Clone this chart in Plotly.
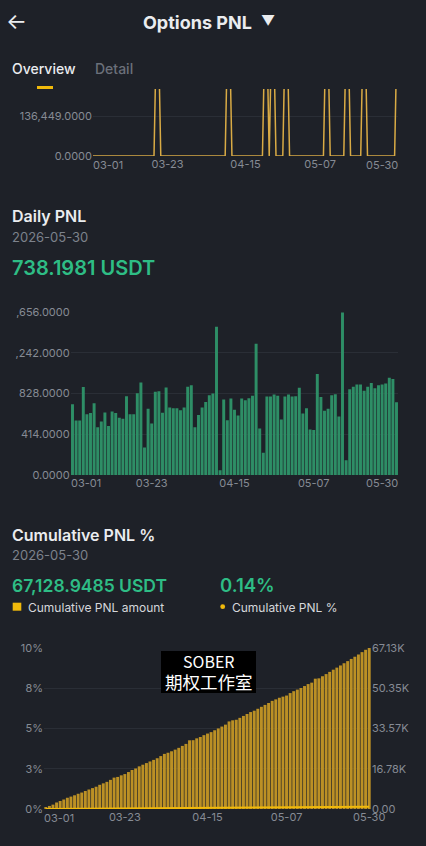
import numpy as np
import pandas as pd
import plotly.graph_objects as go

W, H = 426, 846

# ---------------- data ----------------
dates = pd.date_range("2026-03-01", "2026-05-30", freq="D")

daily_pnl = [718, 554, 554, 893, 616, 629, 728, 486, 544, 636,
             499, 646, 629, 581, 571, 800, 616, 616, 831, 940,
             280, 674, 523, 845, 852, 633, 889, 687, 677, 677,
             657, 687, 896, 913, 486, 609, 687, 742, 810, 828,
             1505, 48, 766, 557, 776, 663, 605, 776, 759, 780,
             804, 1334, 472, 226, 797, 797, 817, 804, 564, 797,
             817, 797, 800, 886, 626, 677, 462, 458, 1026, 793,
             653, 674, 811, 821, 595, 1652, 150, 872, 896, 920,
             920, 855, 896, 934, 882, 913, 920, 930, 988, 975, 738.1981]

overview_spike_dates = ["2026-03-20", "2026-04-10", "2026-04-21", "2026-04-23",
                        "2026-04-27", "2026-05-09", "2026-05-15", "2026-05-20",
                        "2026-05-30"]
overview_spike_value = 600000
overview_values = [overview_spike_value if d.strftime("%Y-%m-%d") in overview_spike_dates else 0
                   for d in dates]

cum_pnl = np.cumsum(daily_pnl)
cum_pnl_final = 67128.9485
cum_pct_final = 0.14
cum_pct = cum_pnl / cum_pnl[-1] * cum_pct_final

first_label, last_label = "03-01", "05-30"
mid_tick_dates = ["2026-03-23", "2026-04-15", "2026-05-07"]
mid_tick_text = ["03-23", "04-15", "05-07"]
top_y_ticks = [0, 136449]
top_y_text = ["0.0000", "136,449.0000"]
daily_y_ticks = [0, 414, 828, 1242, 1656]
daily_y_text = ["0.0000", "414.0000", "828.0000", ",242.0000", ",656.0000"]
pct_ticks = [0, 2.5, 5, 7.5, 10]
pct_text = ["0%", "3%", "5%", "8%", "10%"]
amt_ticks = [0, 16782.24, 33564.47, 50346.71, 67128.9485]
amt_text = ["0.00", "16.78K", "33.57K", "50.35K", "67.13K"]

# ---------------- style ----------------
BG = "#1e2128"
GRID = "#2a2e36"
TICK = "#868b94"
WHITE = "#eaecef"
GRAY = "#7d828c"
GREEN = "#2ebd85"
YELLOW = "#f0b90b"
FONT = "Inter"


def fx(x):
    return x / W


def fy(y):
    return 1 - y / H


fig = go.Figure()

fig.add_trace(go.Scatter(x=dates, y=overview_values, mode="lines",
                         line=dict(color="#d9ab45", width=1.5),
                         xaxis="x", yaxis="y", hoverinfo="skip"))
fig.add_trace(go.Bar(x=dates, y=daily_pnl, marker=dict(color="#2e8e66", line=dict(width=0)),
                     xaxis="x2", yaxis="y2"))
fig.add_trace(go.Bar(x=dates, y=cum_pnl, marker=dict(color="#bb9025", line=dict(width=0)),
                     xaxis="x3", yaxis="y3"))
fig.add_trace(go.Scatter(x=dates, y=cum_pct, mode="lines",
                         line=dict(color=YELLOW, width=2),
                         xaxis="x3", yaxis="y4"))

tickfont = dict(family=FONT, size=11, color=TICK)
half = pd.Timedelta(hours=12)
common = dict(automargin=False, zeroline=False, showline=False, ticks="", tickfont=tickfont)

fig.update_layout(
    width=W, height=H,
    margin=dict(l=0, r=0, t=0, b=0, autoexpand=False),
    paper_bgcolor=BG, plot_bgcolor=BG,
    showlegend=False,
    bargap=0.18,
    font=dict(family=FONT, color=WHITE),
    xaxis=dict(domain=[fx(93), fx(398)], anchor="y", type="date",
               range=[dates[0], dates[-1]],
               tickvals=mid_tick_dates, ticktext=mid_tick_text,
               showgrid=False, **common),
    yaxis=dict(domain=[fy(156), fy(89)], anchor="x", range=[0, 228552],
               tickvals=top_y_ticks, ticktext=top_y_text,
               gridcolor=GRID, **common),
    xaxis2=dict(domain=[fx(70.7), fx(398.3)], anchor="y2", type="date",
                range=[dates[0] - half, dates[-1] + half],
                tickvals=mid_tick_dates, ticktext=mid_tick_text,
                showgrid=False, **common),
    yaxis2=dict(domain=[fy(475), fy(312)], anchor="x2", range=[0, 1656],
                tickvals=daily_y_ticks, ticktext=daily_y_text,
                gridcolor=GRID, **common),
    xaxis3=dict(domain=[fx(44), fx(371)], anchor="y3", type="date",
                range=[dates[0] - half, dates[-1] + half],
                tickvals=mid_tick_dates + ["2026-05-30"], ticktext=mid_tick_text + [last_label],
                showgrid=False, **common),
    yaxis3=dict(domain=[fy(809), fy(648)], anchor="x3", side="right",
                range=[0, cum_pnl_final], tickvals=amt_ticks, ticktext=amt_text,
                gridcolor=GRID, **common),
    yaxis4=dict(overlaying="y3", anchor="x3", side="left", range=[0, 10],
                tickvals=pct_ticks, ticktext=pct_text,
                showgrid=False, **common),
)

ann = []


def text(t, x, y, size, color=WHITE, weight=400, anchor="left", family=FONT):
    ann.append(dict(text=t, x=fx(x), y=fy(y), xref="paper", yref="paper",
                    xanchor=anchor, yanchor="middle", showarrow=False,
                    font=dict(family=family, size=size, color=color, weight=weight)))


def edge_label(t, ax, ay, side, yshift):
    ann.append(dict(text=t, x=0 if side == "left" else 1, y=0,
                    xref=ax + " domain", yref=ay + " domain",
                    xanchor=side, yanchor="middle", showarrow=False,
                    xshift=-2 if side == "left" else 2, yshift=yshift,
                    font=tickfont))


edge_label(first_label, "x", "y", "left", -8.5)
edge_label(last_label, "x", "y", "right", -8.5)
edge_label(first_label, "x2", "y2", "left", -8)
edge_label(last_label, "x2", "y2", "right", -8)
edge_label(first_label, "x3", "y3", "left", -9)

text("←", 16, 21, 22, WHITE, 400, "center")
text("Options PNL", 197.5, 22, 18, WHITE, 700, "center")
text("▼", 268, 21, 14, WHITE, 400, "center")
text("Overview", 10, 69, 14, WHITE, 500)
text("Detail", 93, 69, 14, "#6b707a", 500)
text("Daily PNL", 10, 216, 16, WHITE, 600)
text("2026-05-30", 10, 237, 13, GRAY)
text("738.1981 USDT", 10, 268, 20, GREEN, 600)
text("Cumulative PNL %", 10, 535, 16, WHITE, 600)
text("2026-05-30", 10, 555, 13, GRAY)
text("67,128.9485 USDT", 10, 585, 17.5, GREEN, 600)
text("0.14%", 218, 585, 18.5, GREEN, 600)
text("Cumulative PNL amount", 26, 607, 12, "#d5d7db")
text("Cumulative PNL %", 230, 607, 12, "#d5d7db")
text("SOBER<br><span style='font-size:17.5px'>期权工作室</span>", 208.5, 671, 16,
     "#ffffff", 400, "center", "Noto Sans CJK SC")

shapes = [
    dict(type="rect", xref="paper", yref="paper", x0=fx(37), x1=fx(53), y0=fy(89), y1=fy(86),
         fillcolor=YELLOW, line=dict(width=0), layer="above"),
    dict(type="rect", xref="paper", yref="paper", x0=fx(12.7), x1=fx(21.3), y0=fy(610.7), y1=fy(602.7),
         fillcolor=YELLOW, line=dict(width=0)),
    dict(type="circle", xref="paper", yref="paper", x0=fx(220.3), x1=fx(225.1), y0=fy(609.1), y1=fy(604.3),
         fillcolor=YELLOW, line=dict(width=0)),
    dict(type="rect", xref="paper", yref="paper", x0=fx(161), x1=fx(256), y0=fy(693), y1=fy(651),
         fillcolor="#000000", line=dict(width=0), layer="above"),
]

fig.update_layout(annotations=ann, shapes=shapes)
fig.write_html("out.html")
